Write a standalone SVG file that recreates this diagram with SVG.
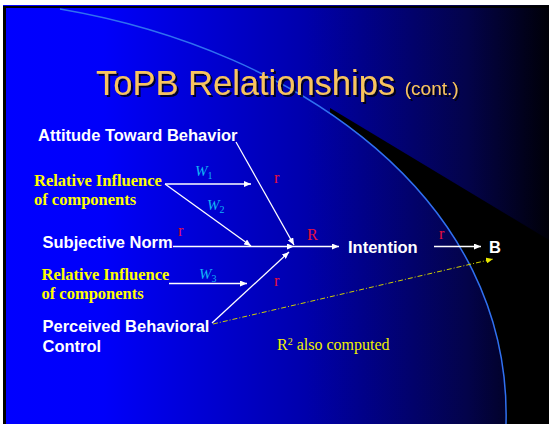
<svg xmlns="http://www.w3.org/2000/svg" width="549" height="424" viewBox="0 0 549 424">
<defs>
<linearGradient id="bg" gradientUnits="userSpaceOnUse" x1="6" y1="0" x2="549" y2="0">
<stop offset="0" stop-color="#0000ff"/>
<stop offset="0.18" stop-color="#0000fa"/>
<stop offset="0.55" stop-color="#0000ac"/>
<stop offset="0.85" stop-color="#03034a"/>
<stop offset="1" stop-color="#000008"/>
</linearGradient>
<clipPath id="below"><polygon points="330,108 549,240 549,424 330,424"/></clipPath>
<filter id="shadow" x="-5%" y="-20%" width="115%" height="150%"><feDropShadow dx="2" dy="2" stdDeviation="0.6" flood-color="#000000" flood-opacity="0.8"/></filter>
<marker id="ah" markerUnits="userSpaceOnUse" markerWidth="8" markerHeight="6" refX="7" refY="3" orient="auto"><path d="M0,0 L7,3 L0,6 z" fill="#ffffff"/></marker>
<marker id="ahy" markerUnits="userSpaceOnUse" markerWidth="8" markerHeight="6" refX="7" refY="3" orient="auto"><path d="M0,0 L7,3 L0,6 z" fill="#e8e800"/></marker>
<style>
.w{fill:#ffffff;font-family:"Liberation Sans",Arial,sans-serif;font-weight:bold;font-size:16.5px}
.y{fill:#ffff00;font-family:"Liberation Serif","Times New Roman",serif;font-weight:bold;font-size:16.5px}
.r{fill:#e8103c;font-family:"Liberation Serif","Times New Roman",serif;font-size:16px}
.wt{fill:#12b4f4;font-family:"Liberation Serif","Times New Roman",serif;font-style:italic;font-size:15px}
.sub{font-size:10px;font-style:normal}
.c{stroke:#ffffff;stroke-width:1.3;fill:none;marker-end:url(#ah)}
.ttl{font-family:"Liberation Sans",Arial,sans-serif;fill:#f8c45e}
</style>
</defs>
<rect x="0" y="0" width="549" height="424" fill="#ffffff"/>
<rect x="3" y="5" width="546" height="419" fill="#000000"/>
<rect x="6" y="8" width="543" height="416" fill="url(#bg)"/>
<line x1="3" y1="5.5" x2="549" y2="5.5" stroke="url(#bg)" stroke-width="1"/>
<path d="M60,9 C300,50 512,200 506,424 L549,424 L549,8 L60,8 Z" fill="#000000" clip-path="url(#below)"/>
<path d="M60,9 C300,50 512,200 506,424" fill="none" stroke="#3070f0" stroke-width="1.5"/>

<g id="title" class="ttl" filter="url(#shadow)">
<text x="96" y="95" font-size="34.5">ToPB Relationships <tspan font-size="19">(cont.)</tspan></text>
</g>

<g id="connectors">
<path class="c" d="M165,184 H251"/>
<path class="c" d="M165,184 L251,246"/>
<path class="c" d="M173,246.5 H294"/>
<path class="c" d="M236,142 L294,245"/>
<path class="c" d="M294,246.5 H339"/>
<path class="c" d="M212,323 L289,252"/>
<path class="c" d="M169,283.5 H247"/>
<path class="c" d="M434,246.5 H481"/>
<path d="M213,324 L493,259" fill="none" stroke="#d0d000" stroke-width="1" stroke-dasharray="5,2,1,2" marker-end="url(#ahy)"/>
</g>

<g id="attitude"><text class="w" x="38" y="140.5">Attitude Toward Behavior</text></g>
<g id="influence1"><text class="y" x="34" y="185.5">Relative Influence</text><text class="y" x="34" y="204.5">of components</text></g>
<g id="subjective"><text class="w" x="42.5" y="248">Subjective Norm</text></g>
<g id="influence2"><text class="y" x="41.5" y="279.5">Relative Influence</text><text class="y" x="41.5" y="298.5">of components</text></g>
<g id="pbc"><text class="w" x="42.5" y="331.5">Perceived Behavioral</text><text class="w" x="42.5" y="351.5">Control</text></g>
<g id="intention"><text class="w" x="348" y="252.5">Intention</text></g>
<g id="b"><text class="w" x="489" y="252.5">B</text></g>

<g id="labels">
<text class="wt" x="195" y="175.5">W<tspan class="sub" dy="3">1</tspan></text>
<text class="wt" x="207" y="210">W<tspan class="sub" dy="3">2</tspan></text>
<text class="wt" x="199" y="279">W<tspan class="sub" dy="3">3</tspan></text>
<text class="r" x="274" y="183">r</text>
<text class="r" x="178" y="236">r</text>
<text class="r" x="274" y="285.5">r</text>
<text class="r" x="439" y="239">r</text>
<text class="r" x="307" y="239.5">R</text>
<text x="277" y="349.5" fill="#f0f000" font-family="'Liberation Serif','Times New Roman',serif" font-size="16">R<tspan font-size="10" dy="-5">2</tspan><tspan dy="5"> also computed</tspan></text>
</g>
</svg>
